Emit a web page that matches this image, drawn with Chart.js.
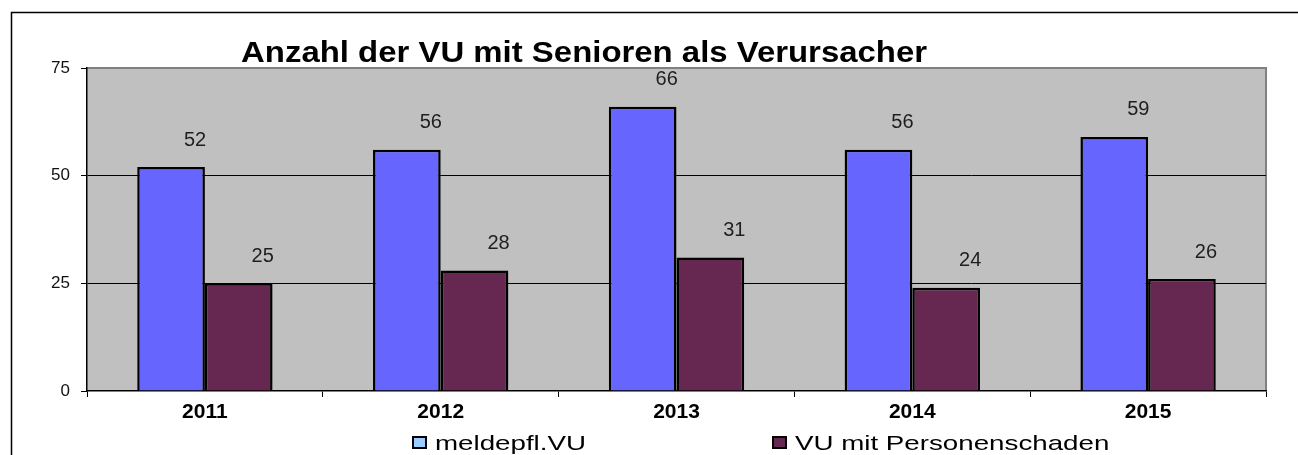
<!DOCTYPE html>
<html>
<head>
<meta charset="utf-8">
<script src="https://cdn.jsdelivr.net/npm/chart.js@4/dist/chart.umd.min.js"></script>
<style>
html,body{margin:0;padding:0;background:#fff;}
#wrap{width:1298px;height:455px;position:relative;}
</style>
</head>
<body>
<div id="wrap"><canvas id="c" width="1298" height="455"></canvas></div>
<script>
const chartTitle = 'Anzahl der VU mit Senioren als Verursacher';
const categories = ['2011', '2012', '2013', '2014', '2015'];
const seriesNames = ['meldepfl.VU', 'VU mit Personenschaden'];
const meldepflVU = [52, 56, 66, 56, 59];
const personenschaden = [25, 28, 31, 24, 26];
const yTicks = [0, 25, 50, 75];

const FONT = '"Liberation Sans", Arial, Helvetica, sans-serif';
const BAR_COLORS = ['#6666ff', '#662850'];
const LEGEND_COLORS = ['#99ccff', '#662850'];

const framePlugin = {
  id: 'framePlugin',
  beforeDraw(chart) {
    const ctx = chart.ctx, a = chart.chartArea;
    ctx.save();
    ctx.fillStyle = '#fff';
    ctx.fillRect(0, 0, chart.width, chart.height);
    ctx.strokeStyle = '#000';
    ctx.lineWidth = 1.5;
    ctx.beginPath();
    ctx.moveTo(11.5, chart.height);
    ctx.lineTo(11.5, 12.5);
    ctx.lineTo(chart.width, 12.5);
    ctx.stroke();
    ctx.fillStyle = '#c0c0c0';
    ctx.fillRect(a.left, a.top, a.right - a.left, a.bottom - a.top);
    ctx.strokeStyle = '#808080';
    ctx.lineWidth = 2;
    ctx.beginPath();
    ctx.moveTo(a.left, a.top);
    ctx.lineTo(a.right, a.top);
    ctx.lineTo(a.right, a.bottom);
    ctx.stroke();
    ctx.restore();
  },
  afterDatasetsDraw(chart) {
    const ctx = chart.ctx;
    ctx.save();
    ctx.font = '20px ' + FONT;
    ctx.fillStyle = '#1e1e1e';
    ctx.textAlign = 'center';
    ctx.textBaseline = 'middle';
    chart.data.datasets.forEach((ds, i) => {
      const meta = chart.getDatasetMeta(i);
      meta.data.forEach((el, j) => {
        ctx.fillText(String(ds.data[j]), el.x + 24, el.y - 27);
      });
    });
    ctx.restore();
  },
  afterDraw(chart) {
    const ctx = chart.ctx, a = chart.chartArea;
    ctx.save();
    ctx.font = 'bold 29px ' + FONT;
    ctx.fillStyle = '#000';
    ctx.textAlign = 'center';
    ctx.textBaseline = 'alphabetic';
    ctx.translate(a.left + (a.right - a.left) * 0.4216, 62);
    ctx.scale(1.135, 1);
    ctx.fillText(chartTitle, 0, 0);
    ctx.restore();
    const starts = [413, 773];
    ctx.save();
    ctx.font = '21px ' + FONT;
    ctx.textBaseline = 'alphabetic';
    ctx.textAlign = 'left';
    chart.data.datasets.forEach((ds, i) => {
      const x = starts[i];
      ctx.fillStyle = LEGEND_COLORS[i];
      ctx.fillRect(x, 437, 13, 11);
      ctx.strokeStyle = '#000';
      ctx.lineWidth = 2;
      ctx.strokeRect(x, 437, 13, 11);
      ctx.save();
      ctx.translate(x + 22, 450);
      ctx.scale(1.32, 1);
      ctx.fillStyle = '#000';
      ctx.fillText(ds.label, 0, 0);
      ctx.restore();
    });
    ctx.restore();
  }
};

new Chart(document.getElementById('c'), {
  type: 'bar',
  data: {
    labels: categories,
    datasets: [
      { label: seriesNames[0], data: meldepflVU, backgroundColor: BAR_COLORS[0], borderColor: '#000', borderWidth: 2.5 },
      { label: seriesNames[1], data: personenschaden, backgroundColor: BAR_COLORS[1], borderColor: '#000', borderWidth: 2.5 }
    ]
  },
  options: {
    responsive: false,
    animation: false,
    events: [],
    layout: { padding: { top: 68, right: 32, bottom: 0, left: 0 } },
    datasets: { bar: { categoryPercentage: 0.574, barPercentage: 1.0 } },
    plugins: { legend: { display: false }, title: { display: false }, tooltip: { enabled: false } },
    scales: {
      x: {
        afterFit(s) { s.height = 64; },
        grid: { offset: true, drawOnChartArea: false, drawTicks: true, tickLength: 6, color: '#000', tickColor: '#000' },
        border: { display: true, color: '#000', width: 1.5 },
        ticks: { color: '#000', font: { family: FONT, size: 21, weight: 'bold' }, padding: 3 }
      },
      y: {
        min: 0, max: 75,
        afterFit(s) { s.width = 87; },
        afterBuildTicks(s) { s.ticks = yTicks.map(v => ({ value: v })); },
        grid: {
          drawOnChartArea: true, drawTicks: true, tickLength: 6,
          color: (c) => (c.tick && (c.tick.value === 0 || c.tick.value === 75)) ? 'rgba(0,0,0,0)' : '#000',
          tickColor: '#000', lineWidth: 1
        },
        border: { display: true, color: '#000', width: 1.5 },
        ticks: { color: '#111', font: { family: FONT, size: 17 }, padding: 11 }
      }
    }
  },
  plugins: [framePlugin]
});
</script>
</body>
</html>
